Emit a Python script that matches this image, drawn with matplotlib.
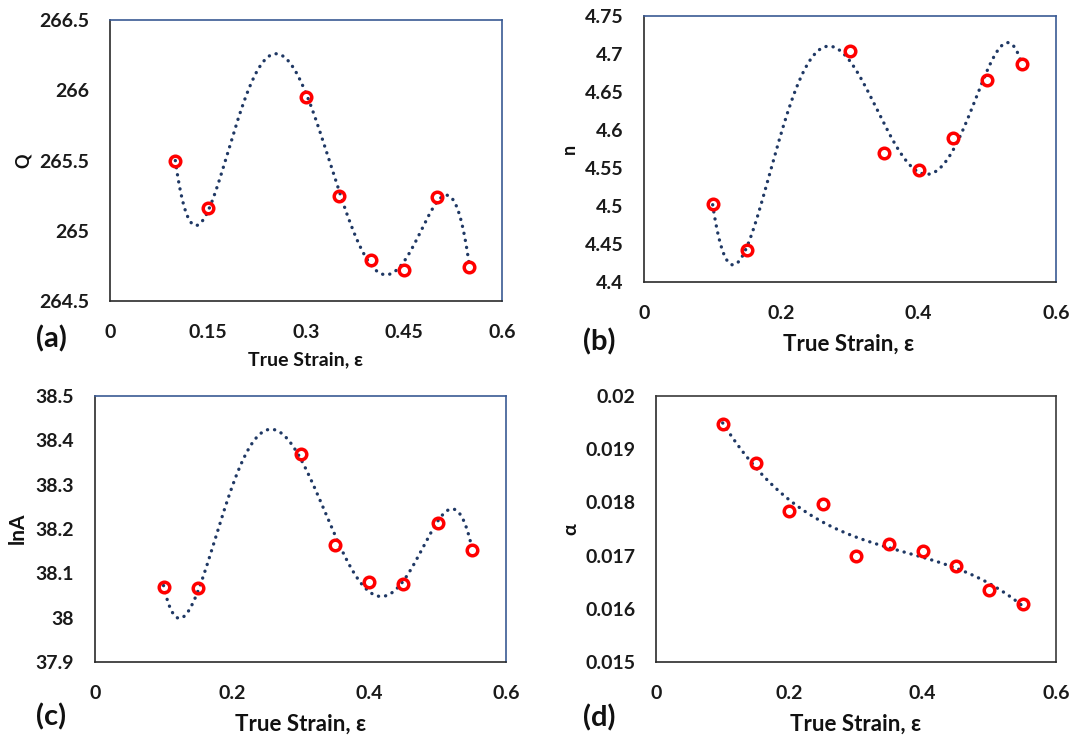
import numpy as np
import matplotlib
matplotlib.use("Agg")
import matplotlib.pyplot as plt

plt.rcParams['font.family'] = ['Lato', 'Open Sans', 'DejaVu Sans']
plt.rcParams['font.weight'] = 'bold'

# ---- data: measured points ----
strain_a = [0.10, 0.15, 0.30, 0.35, 0.40, 0.45, 0.50, 0.55]
Q_vals = [265.50, 265.16, 265.95, 265.25, 264.79, 264.72, 265.24, 264.74]

strain_b = [0.10, 0.15, 0.30, 0.35, 0.40, 0.45, 0.50, 0.55]
n_vals = [4.502, 4.442, 4.704, 4.570, 4.548, 4.589, 4.666, 4.687]

strain_c = [0.10, 0.15, 0.30, 0.35, 0.40, 0.45, 0.50, 0.55]
lnA_vals = [38.070, 38.067, 38.369, 38.164, 38.080, 38.077, 38.213, 38.152]

strain_d = [0.10, 0.15, 0.20, 0.25, 0.30, 0.35, 0.40, 0.45, 0.50, 0.55]
alpha_vals = [0.019468, 0.018748, 0.017841, 0.017979, 0.016996,
              0.017215, 0.017078, 0.016796, 0.016358, 0.016095]

# ---- data: trendline values (polynomial trendlines) ----
trend_strain = [0.100, 0.125, 0.150, 0.175, 0.200, 0.225, 0.250, 0.275, 0.300, 0.325,
                0.350, 0.375, 0.400, 0.425, 0.450, 0.475, 0.500, 0.525, 0.550]
trend_Q = [265.50, 265.05, 265.15, 265.47, 265.84, 266.13, 266.28, 266.21, 265.97, 265.63,
           265.27, 265.00, 264.78, 264.68, 264.76, 264.98, 265.22, 265.22, 264.75]
trend_n = [4.502, 4.424, 4.443, 4.523, 4.596, 4.659, 4.699, 4.709, 4.695, 4.655,
           4.607, 4.565, 4.543, 4.545, 4.576, 4.626, 4.674, 4.715, 4.687]
trend_lnA = [38.070, 38.004, 38.062, 38.168, 38.288, 38.389, 38.427, 38.412, 38.362, 38.277,
             38.179, 38.107, 38.066, 38.050, 38.081, 38.149, 38.216, 38.243, 38.160]

panels = [
    dict(x=strain_a, y=Q_vals, tx=trend_strain, ty=trend_Q, deg=6,
         ylim=(264.5, 266.5), yticks=[264.5, 265, 265.5, 266, 266.5],
         yticklabels=['264.5', '265', '265.5', '266', '266.5'],
         xticks=[0, 0.15, 0.3, 0.45, 0.6], xticklabels=['0', '0.15', '0.3', '0.45', '0.6'],
         ylabel='Q', tag='(a)'),
    dict(x=strain_b, y=n_vals, tx=trend_strain, ty=trend_n, deg=6,
         ylim=(4.4, 4.75), yticks=[4.4, 4.45, 4.5, 4.55, 4.6, 4.65, 4.7, 4.75],
         yticklabels=['4.4', '4.45', '4.5', '4.55', '4.6', '4.65', '4.7', '4.75'],
         xticks=[0, 0.2, 0.4, 0.6], xticklabels=['0', '0.2', '0.4', '0.6'],
         ylabel='n', tag='(b)'),
    dict(x=strain_c, y=lnA_vals, tx=trend_strain, ty=trend_lnA, deg=6,
         ylim=(37.9, 38.5), yticks=[37.9, 38.0, 38.1, 38.2, 38.3, 38.4, 38.5],
         yticklabels=['37.9', '38', '38.1', '38.2', '38.3', '38.4', '38.5'],
         xticks=[0, 0.2, 0.4, 0.6], xticklabels=['0', '0.2', '0.4', '0.6'],
         ylabel='lnA', tag='(c)'),
    dict(x=strain_d, y=alpha_vals, tx=strain_d, ty=alpha_vals, deg=3,
         ylim=(0.015, 0.02), yticks=[0.015, 0.016, 0.017, 0.018, 0.019, 0.02],
         yticklabels=['0.015', '0.016', '0.017', '0.018', '0.019', '0.02'],
         xticks=[0, 0.2, 0.4, 0.6], xticklabels=['0', '0.2', '0.4', '0.6'],
         ylabel='α', tag='(d)'),
]

W, H = 1075, 736
fig = plt.figure(figsize=(W / 100, H / 100), dpi=100)

# axes boxes in pixels: left, top, right, bottom
boxes = [(110, 20, 502, 301), (644, 16, 1056, 282), (95, 396, 506, 662), (656, 396, 1056, 662)]
tag_pos = [(51, 339), (599, 342), (51, 717), (599, 718)]
xlab_pos = [(306, 360), (849, 344), (301, 724), (856, 724)]
ylab_pos = [(23, 161), (569, 149), (18, 528), (571, 529)]
xlab_size = [14, 16, 16, 16]
ylab_size = [13, 13, 15, 14]
frame_top = ['#3A5A94', '#3A5A94', '#3A5A94', '#3a3a3a']

navy = '#1F3864'

for i, p in enumerate(panels):
    l, t, r, b = boxes[i]
    ax = fig.add_axes([l / W, 1 - b / H, (r - l) / W, (b - t) / H])
    tx = np.array(p['tx'])
    ty = np.array(p['ty'])
    coef = np.polyfit(tx, ty, p['deg'])
    xf = np.linspace(tx.min(), tx.max(), 400)
    ax.plot(xf, np.polyval(coef, xf), color=navy, lw=2.4,
            linestyle=(0, (0.05, 2.1)), dash_capstyle='round', zorder=2)
    ax.plot(p['x'], p['y'], linestyle='none', marker='o', markersize=7.6,
            markerfacecolor='none', markeredgecolor='#FF0000', markeredgewidth=2.5, zorder=3)
    ax.set_xlim(0, 0.6)
    ax.set_ylim(*p['ylim'])
    ax.set_xticks(p['xticks'])
    ax.set_xticklabels(p['xticklabels'])
    ax.set_yticks(p['yticks'])
    ax.set_yticklabels(p['yticklabels'])
    ax.tick_params(axis='both', length=0, labelsize=14)
    ax.tick_params(axis='x', pad=16.5)
    ax.tick_params(axis='y', pad=15)
    for lab in ax.get_xticklabels() + ax.get_yticklabels():
        lab.set_fontweight('bold')
        lab.set_color('#1a1a1a')
    for s in ['left', 'bottom']:
        ax.spines[s].set_color('#2a2a2a')
        ax.spines[s].set_linewidth(1.2)
    for s in ['top', 'right']:
        ax.spines[s].set_color(frame_top[i])
        ax.spines[s].set_linewidth(1.2)

    fig.text(tag_pos[i][0] / W, 1 - tag_pos[i][1] / H, p['tag'], fontsize=21,
             fontweight='bold', ha='center', va='center', color='#111111')
    fig.text(xlab_pos[i][0] / W, 1 - xlab_pos[i][1] / H, 'True Strain, ε', fontsize=xlab_size[i],
             fontweight='bold', ha='center', va='center', color='#111111')
    fig.text(ylab_pos[i][0] / W, 1 - ylab_pos[i][1] / H, p['ylabel'], fontsize=ylab_size[i],
             fontweight='bold', ha='center', va='center', rotation=90, color='#111111')

fig.savefig('out.png', dpi=100, facecolor='white')
